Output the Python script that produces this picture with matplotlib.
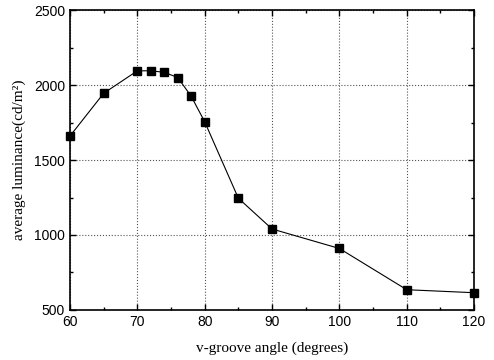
import matplotlib
matplotlib.use('Agg')
import matplotlib.pyplot as plt
from matplotlib.ticker import MultipleLocator

angle = [60, 65, 70, 72, 74, 76, 78, 80, 85, 90, 100, 110, 120]
luminance = [1660, 1945, 2095, 2095, 2085, 2050, 1925, 1755, 1245, 1040, 910, 635, 615]

fig = plt.figure(figsize=(4.94, 3.60), dpi=100)
ax = fig.add_axes([0.1417, 0.139, 0.818, 0.833])

ax.plot(angle, luminance, color='black', lw=0.8, marker='s', ms=6,
        markerfacecolor='black', markeredgecolor='black', clip_on=False, zorder=3)

ax.set_xlim(60, 120)
ax.set_ylim(500, 2500)
ax.xaxis.set_major_locator(MultipleLocator(10))
ax.xaxis.set_minor_locator(MultipleLocator(5))
ax.yaxis.set_major_locator(MultipleLocator(500))
ax.yaxis.set_minor_locator(MultipleLocator(250))
ax.tick_params(which='both', direction='in', top=True, right=True)
ax.tick_params(which='major', length=4, width=1)
ax.tick_params(which='minor', length=2.5, width=1)
ax.grid(True, which='major', linestyle=':', color='#555555', lw=0.8)

for lbl in ax.get_xticklabels() + ax.get_yticklabels():
    lbl.set_family('Liberation Sans')
    lbl.set_fontsize(10)

for s in ax.spines.values():
    s.set_linewidth(1.2)

ax.set_xlabel('v-groove angle (degrees)', family='Liberation Serif', fontsize=11, labelpad=9)
ax.set_ylabel('average luminance(cd/m²)', family='Liberation Serif', fontsize=11, labelpad=6)

fig.savefig('out.png', dpi=100)
